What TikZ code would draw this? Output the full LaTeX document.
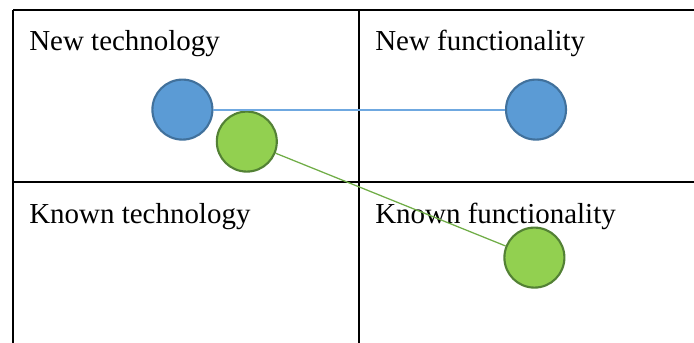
\documentclass[tikz,border=0pt]{standalone}
\usepackage{fontspec}
\setmainfont{Liberation Serif}
\usetikzlibrary{calc}

\definecolor{techblue}{HTML}{5B9BD5}
\definecolor{techblueline}{HTML}{41719C}
\definecolor{funcgreen}{HTML}{92D050}
\definecolor{funcgreenline}{HTML}{538135}
\definecolor{linkblue}{HTML}{6FA8E0}
\definecolor{linkgreen}{HTML}{70AD47}

\begin{document}
\begin{tikzpicture}
\tikzset{grid/.style={draw=black,line width=1.8pt},
  quad/.style={anchor=base west,inner sep=0pt,font=\fontsize{20.6}{24}\selectfont},
  bluedot/.style={draw=techblueline,fill=techblue,circle,line width=1.5pt,minimum size=1.5cm,inner sep=0pt},
  greendot/.style={draw=funcgreenline,fill=funcgreen,circle,line width=1.5pt,minimum size=1.5cm,inner sep=0pt}}
\useasboundingbox (0,0) rectangle (17.35,-8.575);
\coordinate (TL) at (0.325,-0.25);
\coordinate (TM) at (8.975,-0.25);
\coordinate (TR) at (17.35,-0.25);
\coordinate (ML) at (0.325,-4.55);
\coordinate (MR) at (17.35,-4.55);
\coordinate (BL) at (0.325,-8.575);
\coordinate (BM) at (8.975,-8.575);
\draw[grid] (TL) -- (TR);
\draw[grid] (ML) -- (MR);
\draw[grid] (TL) -- (BL);
\draw[grid] (TM) -- (BM);

\node[quad] (newtech) at (0.725,-1.275) {New technology};
\node[quad] (newfunc) at (9.375,-1.275) {New functionality};
\node[quad] (knowntech) at (0.725,-5.575) {Known technology};
\node[quad] (knownfunc) at (9.375,-5.575) {Known functionality};

\node[bluedot] (b1) at (4.56,-2.74) {};
\node[bluedot] (b2) at (13.4,-2.74) {};
\node[greendot] (g1) at (6.17,-3.54) {};
\node[greendot] (g2) at (13.36,-6.44) {};
\draw[linkblue,line width=1.3pt] (b1) -- (b2);
\draw[linkgreen,line width=0.9pt] (g1) -- (g2);
\end{tikzpicture}
\end{document}
